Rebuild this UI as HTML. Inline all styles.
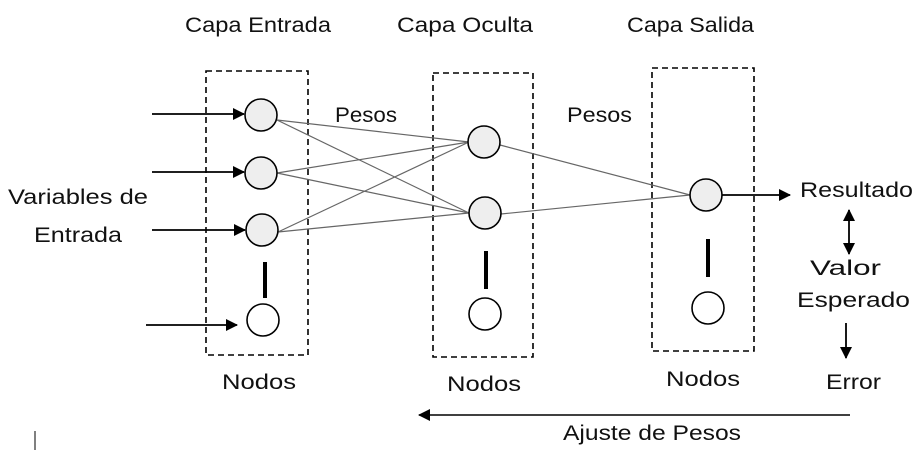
<!DOCTYPE html>
<html><head><meta charset="utf-8"><style>
html,body{margin:0;padding:0;background:#fff;}
svg{display:block;}
text{font-family:"Liberation Sans",sans-serif;font-size:21px;fill:#111;}
</style></head><body>
<svg width="924" height="451" viewBox="0 0 924 451" xmlns="http://www.w3.org/2000/svg">
<defs>
<marker id="a" markerWidth="12" markerHeight="12" refX="11" refY="6" orient="auto-start-reverse" markerUnits="userSpaceOnUse"><path d="M0,0 L12,6 L0,12 z" fill="#000"/></marker>
</defs>
<g fill="none" stroke="#000" stroke-width="1.6" stroke-dasharray="6,4">
<rect x="206" y="71" width="102" height="284"/>
<rect x="433" y="73" width="100" height="284"/>
<rect x="652" y="68" width="102" height="283"/>
</g>
<g stroke="#666" stroke-width="1.2">
<line x1="277" y1="120" x2="469" y2="142"/>
<line x1="277" y1="120" x2="469" y2="213"/>
<line x1="277" y1="173" x2="469" y2="142"/>
<line x1="277" y1="173" x2="469" y2="213"/>
<line x1="278" y1="232" x2="469" y2="142"/>
<line x1="278" y1="232" x2="469" y2="213"/>
<line x1="500" y1="145" x2="690" y2="195"/>
<line x1="501" y1="214" x2="690" y2="195"/>
</g>
<g stroke="#000" stroke-width="1.8" marker-end="url(#a)">
<line x1="152" y1="114" x2="244" y2="114"/>
<line x1="152" y1="172" x2="244" y2="172"/>
<line x1="152" y1="230" x2="245" y2="230"/>
<line x1="146" y1="325" x2="237" y2="325"/>
<line x1="722" y1="195" x2="790" y2="195"/>
<line x1="846" y1="323" x2="846" y2="358"/>
</g>
<line x1="849" y1="210" x2="849" y2="254" stroke="#000" stroke-width="1.8" marker-start="url(#a)" marker-end="url(#a)"/>
<line x1="850" y1="415" x2="419" y2="415" stroke="#000" stroke-width="1.5" marker-end="url(#a)"/>
<g stroke="#000" stroke-width="1.6">
<circle cx="261" cy="115" r="16" fill="#eee"/>
<circle cx="261" cy="173" r="16" fill="#eee"/>
<circle cx="262" cy="230" r="16" fill="#eee"/>
<circle cx="263" cy="320" r="16" fill="#fff"/>
<circle cx="484" cy="142" r="16" fill="#eee"/>
<circle cx="485" cy="213" r="16" fill="#eee"/>
<circle cx="485" cy="314" r="16" fill="#fff"/>
<circle cx="706" cy="195" r="16" fill="#eee"/>
<circle cx="708" cy="308" r="16" fill="#fff"/>
</g>
<g stroke="#000" stroke-width="4">
<line x1="265" y1="262" x2="265" y2="298"/>
<line x1="486" y1="251" x2="486" y2="289"/>
<line x1="708" y1="239" x2="708" y2="277"/>
</g>
<line x1="35" y1="431" x2="35" y2="450" stroke="#000" stroke-width="1"/>
<text x="185" y="32" textLength="146" lengthAdjust="spacingAndGlyphs">Capa Entrada</text>
<text x="397" y="32" textLength="136" lengthAdjust="spacingAndGlyphs">Capa Oculta</text>
<text x="627" y="32" textLength="127" lengthAdjust="spacingAndGlyphs">Capa Salida</text>
<text x="335" y="122" textLength="62" lengthAdjust="spacingAndGlyphs">Pesos</text>
<text x="567" y="122" textLength="65" lengthAdjust="spacingAndGlyphs">Pesos</text>
<text x="8" y="204" textLength="140" lengthAdjust="spacingAndGlyphs">Variables de</text>
<text x="34" y="242" textLength="88" lengthAdjust="spacingAndGlyphs">Entrada</text>
<text x="222" y="389" textLength="74" lengthAdjust="spacingAndGlyphs">Nodos</text>
<text x="447" y="391" textLength="74" lengthAdjust="spacingAndGlyphs">Nodos</text>
<text x="666" y="386" textLength="74" lengthAdjust="spacingAndGlyphs">Nodos</text>
<text x="800" y="197" textLength="113" lengthAdjust="spacingAndGlyphs">Resultado</text>
<text x="810" y="275" textLength="71" lengthAdjust="spacingAndGlyphs">Valor</text>
<text x="797" y="307" textLength="113" lengthAdjust="spacingAndGlyphs">Esperado</text>
<text x="826" y="389" textLength="55" lengthAdjust="spacingAndGlyphs">Error</text>
<text x="563" y="440" textLength="178" lengthAdjust="spacingAndGlyphs">Ajuste de Pesos</text>
</svg>
</body></html>
